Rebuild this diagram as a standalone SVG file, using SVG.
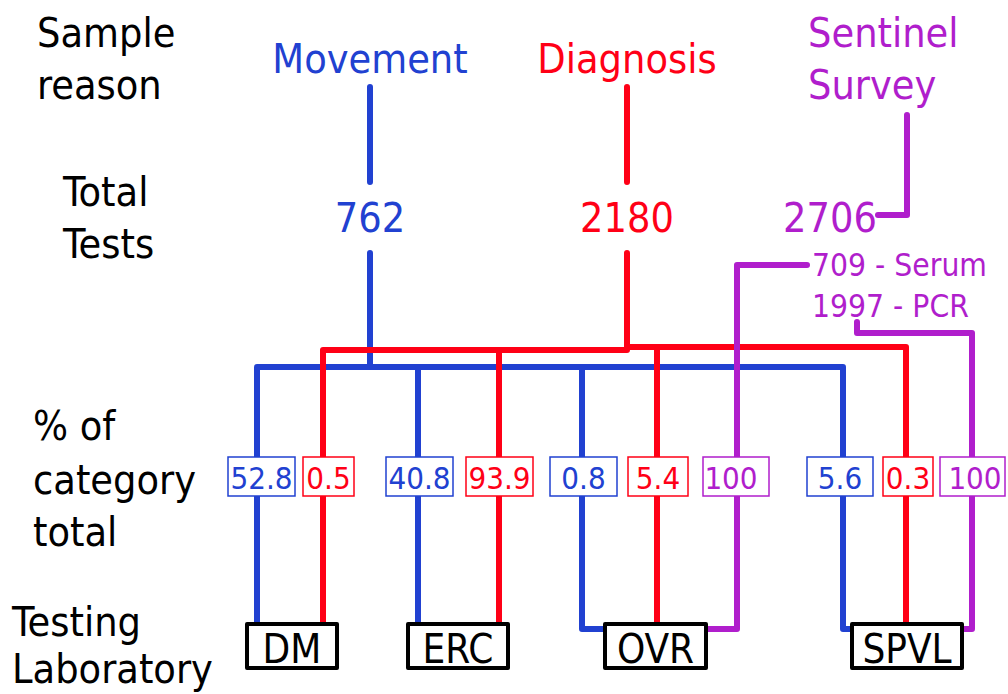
<svg xmlns="http://www.w3.org/2000/svg" width="1008" height="694" viewBox="0 0 1008 694">
<style>
text{font-family:"DejaVu Sans Condensed","DejaVu Sans",sans-serif;font-stretch:condensed}
.lbl{font-size:41px;fill:#000}
.big{font-size:41px}
.pct{font-size:31px;text-anchor:middle}
.lab{font-size:40px;text-anchor:middle;fill:#000}
.sub{font-size:31.5px;fill:#b01ecc}
.b{stroke:#2141d1;fill:none;stroke-width:6;stroke-linecap:round;stroke-linejoin:round}
.r{stroke:#ff0016;fill:none;stroke-width:6;stroke-linecap:round;stroke-linejoin:round}
.p{stroke:#b01ecc;fill:none;stroke-width:6;stroke-linecap:round;stroke-linejoin:round}
.bb{fill:#fff;stroke:#2141d1;stroke-width:1.5}
.rb{fill:#fff;stroke:#ff0016;stroke-width:1.5}
.pb{fill:#fff;stroke:#b01ecc;stroke-width:1.5}
.kb{fill:#fff;stroke:#000;stroke-width:4;stroke-linejoin:round}
.bt{fill:#2141d1}.rt{fill:#ff0016}.pt{fill:#b01ecc}
</style>
<rect width="1008" height="694" fill="#fff"/>
<g id="row-labels">
<text class="lbl" x="37" y="47">Sample</text>
<text class="lbl" x="37" y="99">reason</text>
<text class="lbl" x="63" y="206">Total</text>
<text class="lbl" x="63" y="258">Tests</text>
<text class="lbl" x="33" y="440">% of</text>
<text class="lbl" x="33" y="494">category</text>
<text class="lbl" x="33" y="546">total</text>
<text class="lbl" x="12" y="636">Testing</text>
<text class="lbl" x="12" y="683">Laboratory</text>
</g>
<g id="connectors">
<path class="b" d="M370 87V182M370 253V367M257 623V367H843V629H852M418 367V623M582 367V629H605"/>
<path class="r" d="M627 87V182M627 253V350H323V623M499 350V623M657 350V623M627 347H906V623"/>
<path class="p" d="M907 115V215H878M807 265H737V629H706M857 322V333H972V629H962"/>
</g>
<g id="reason-movement"><text class="big bt" x="370" y="73" text-anchor="middle">Movement</text></g>
<g id="reason-diagnosis"><text class="big rt" x="627" y="73" text-anchor="middle">Diagnosis</text></g>
<g id="reason-sentinel"><text class="big pt" x="808" y="47">Sentinel</text><text class="big pt" x="808" y="99">Survey</text></g>
<g id="total-762"><text class="big bt" x="370" y="232" text-anchor="middle">762</text></g>
<g id="total-2180"><text class="big rt" x="627" y="232" text-anchor="middle">2180</text></g>
<g id="total-2706"><text class="big pt" x="783" y="232">2706</text></g>
<g id="serum"><text class="sub" x="812" y="276">709 - Serum</text></g>
<g id="pcr"><text class="sub" x="812" y="317">1997 - PCR</text></g>
<g id="pct-dm-m"><rect class="bb" x="228" y="457" width="67" height="39"/><text class="pct bt" x="261.5" y="489">52.8</text></g>
<g id="pct-dm-d"><rect class="rb" x="303" y="457" width="51" height="39"/><text class="pct rt" x="328.5" y="489">0.5</text></g>
<g id="pct-erc-m"><rect class="bb" x="386" y="457" width="67" height="39"/><text class="pct bt" x="419.5" y="489">40.8</text></g>
<g id="pct-erc-d"><rect class="rb" x="466" y="457" width="67" height="39"/><text class="pct rt" x="499.5" y="489">93.9</text></g>
<g id="pct-ovr-m"><rect class="bb" x="550" y="457" width="67" height="39"/><text class="pct bt" x="583.5" y="489">0.8</text></g>
<g id="pct-ovr-d"><rect class="rb" x="628" y="457" width="60" height="39"/><text class="pct rt" x="658" y="489">5.4</text></g>
<g id="pct-ovr-s"><rect class="pb" x="703" y="457" width="66" height="39"/><text class="pct pt" x="731" y="489">100</text></g>
<g id="pct-spvl-m"><rect class="bb" x="807" y="457" width="66" height="39"/><text class="pct bt" x="840" y="489">5.6</text></g>
<g id="pct-spvl-d"><rect class="rb" x="883" y="457" width="50" height="39"/><text class="pct rt" x="908" y="489">0.3</text></g>
<g id="pct-spvl-s"><rect class="pb" x="940" y="457" width="65" height="39"/><text class="pct pt" x="975" y="489">100</text></g>
<g id="lab-dm"><rect class="kb" x="247" y="624" width="90" height="44"/><text class="lab" x="292" y="663">DM</text></g>
<g id="lab-erc"><rect class="kb" x="408" y="624" width="100" height="44"/><text class="lab" x="458" y="663">ERC</text></g>
<g id="lab-ovr"><rect class="kb" x="605" y="624" width="101" height="44"/><text class="lab" x="655.5" y="663">OVR</text></g>
<g id="lab-spvl"><rect class="kb" x="852" y="624" width="110" height="44"/><text class="lab" x="907" y="663">SPVL</text></g>
</svg>
